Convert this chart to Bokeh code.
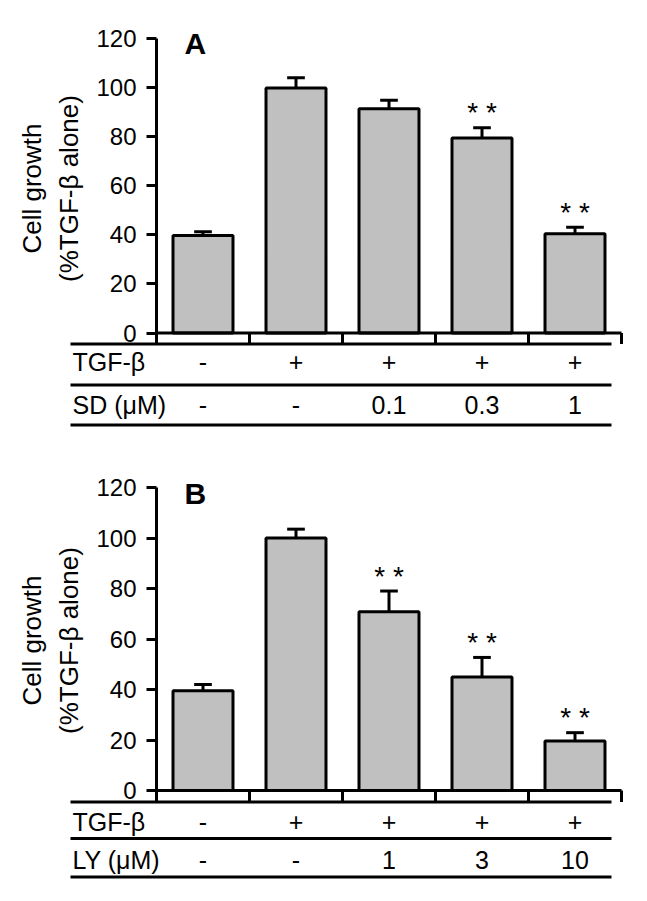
import math
from bokeh.plotting import figure
from bokeh.models import LinearAxis, FixedTicker, Range1d, ColumnDataSource
from bokeh.layouts import column
from bokeh.embed import file_html
from bokeh.resources import INLINE
from bokeh.core.properties import value

# ---------------- data ----------------
categories = [1, 2, 3, 4, 5]
tgf_row = ["-", "+", "+", "+", "+"]
sd_row = ["-", "-", "0.1", "0.3", "1"]
ly_row = ["-", "-", "1", "3", "10"]

a_values = [39.7, 99.8, 91.4, 79.5, 40.4]
a_errors = [1.6, 4.2, 3.4, 4.1, 2.7]
a_stars = ["", "", "", "* *", "* *"]

b_values = [39.5, 100.0, 70.8, 45.0, 19.6]
b_errors = [2.5, 3.5, 8.2, 7.7, 3.3]
b_stars = ["", "", "* *", "* *", "* *"]

y_ticks = [0, 20, 40, 60, 80, 100, 120]
y_label_1 = "Cell growth"
y_label_2 = "(%TGF-\u03b2 alone)"
row1_label = "TGF-\u03b2"
a_row2_label = "SD (\u03bcM)"
b_row2_label = "LY (\u03bcM)"

FONT = "Liberation Sans"
W = 647
PX_PER_CAT = 93.0
CAT1_PX = 202.5  # pixel of category 1 centre


def px2x(px):
    return 1 + (px - CAT1_PX) / PX_PER_CAT


def make_panel(letter, vals, errs, stars, row2_label, row2, g):
    h = g["h"]
    ppu = (g["y0"] - g["y120"]) / 120.0

    def py2y(py):
        return (g["y0"] - py) / ppu

    p = figure(width=W, height=h, output_backend="svg", toolbar_location=None,
               x_axis_type=None, y_axis_type=None,
               x_range=Range1d(px2x(0), px2x(W)),
               y_range=Range1d(py2y(h), py2y(0)),
               min_border_left=0, min_border_right=0,
               min_border_top=0, min_border_bottom=0)
    p.outline_line_color = None
    p.xgrid.visible = False
    p.ygrid.visible = False
    p.background_fill_color = "white"
    p.border_fill_color = "white"

    line1 = py2y(g["lines"][0])

    src = ColumnDataSource(dict(x=categories, top=vals,
                                hi=[v + e for v, e in zip(vals, errs)],
                                star_y=[v + e + g["star_off"] / ppu for v, e in zip(vals, errs)],
                                stars=stars))
    # error bars (upper only)
    p.segment(x0="x", y0="top", x1="x", y1="hi", source=src, line_color="black", line_width=3)
    p.segment(x0=[c - 0.095 for c in categories], y0=src.data["hi"],
              x1=[c + 0.095 for c in categories], y1=src.data["hi"],
              line_color="black", line_width=3)
    p.vbar(x="x", top="top", bottom=0, width=0.645, source=src,
           fill_color="#c0c0c0", line_color="black", line_width=3)
    p.text(x="x", y="star_y", text="stars", source=src,
           text_font=value(FONT), text_font_size="28px",
           text_align="center", text_baseline="middle", text_color="black")

    # baseline and category separators
    p.segment(x0=[0.5], y0=[0], x1=[5.5], y1=[0], line_color="black", line_width=3)
    seps = [1.5, 2.5, 3.5, 4.5, 5.5]
    p.segment(x0=seps, y0=[0] * 5, x1=seps, y1=[line1] * 5, line_color="black", line_width=3)

    # table lines
    xl, xr = px2x(70), px2x(611)
    for ly in g["lines"]:
        p.segment(x0=[xl], y0=[py2y(ly)], x1=[xr], y1=[py2y(ly)], line_color="black", line_width=3)

    # table rows
    r1, r2 = g["rows"]
    p.text(x=[px2x(72)] * 2, y=[py2y(r1), py2y(r2)], text=[row1_label, row2_label],
           text_font=value(FONT), text_font_size="25px",
           text_align="left", text_baseline="middle", text_color="black")
    p.text(x=categories, y=[py2y(r1)] * 5, text=tgf_row,
           text_font=value(FONT), text_font_size="25px",
           text_align="center", text_baseline="middle", text_color="black")
    p.text(x=categories, y=[py2y(r2)] * 5, text=row2,
           text_font=value(FONT), text_font_size="25px",
           text_align="center", text_baseline="middle", text_color="black")

    # panel letter
    p.text(x=[px2x(184)], y=[py2y(g["letter"])], text=[letter],
           text_font=value(FONT), text_font_size="30px", text_font_style="bold",
           text_align="left", text_baseline="middle", text_color="black")

    # y label (two rotated lines)
    yc = py2y(g["ylab"])
    p.text(x=[px2x(31), px2x(68)], y=[yc, yc], text=[y_label_1, y_label_2],
           angle=math.pi / 2, text_font=value(FONT), text_font_size="26px",
           text_align="center", text_baseline="middle", text_color="black")

    # y axis
    yaxis = LinearAxis(fixed_location=0.5, bounds=(line1, 120),
                       ticker=FixedTicker(ticks=y_ticks))
    yaxis.axis_line_width = 3
    yaxis.major_tick_line_width = 3
    yaxis.major_tick_out = 10
    yaxis.major_tick_in = 0
    yaxis.minor_tick_line_color = None
    yaxis.major_label_text_font = FONT
    yaxis.major_label_text_font_size = "24px"
    yaxis.major_label_text_color = "black"
    yaxis.major_label_standoff = 10
    p.add_layout(yaxis, "left")
    return p


geom_a = dict(h=458, y0=332.5, y120=38.0, lines=[343.5, 384.5, 424.5], rows=[361, 404],
              star_off=15, letter=43, ylab=188)
geom_b = dict(h=440, y0=332.0, y120=29.0, lines=[343.5, 380.0, 418.5], rows=[363.5, 401],
              star_off=15, letter=35, ylab=182)

pa = make_panel("A", a_values, a_errors, a_stars, a_row2_label, sd_row, geom_a)
pb = make_panel("B", b_values, b_errors, b_stars, b_row2_label, ly_row, geom_b)

layout = column(pa, pb, spacing=0)
open("out.html", "w").write(file_html(layout, INLINE))
